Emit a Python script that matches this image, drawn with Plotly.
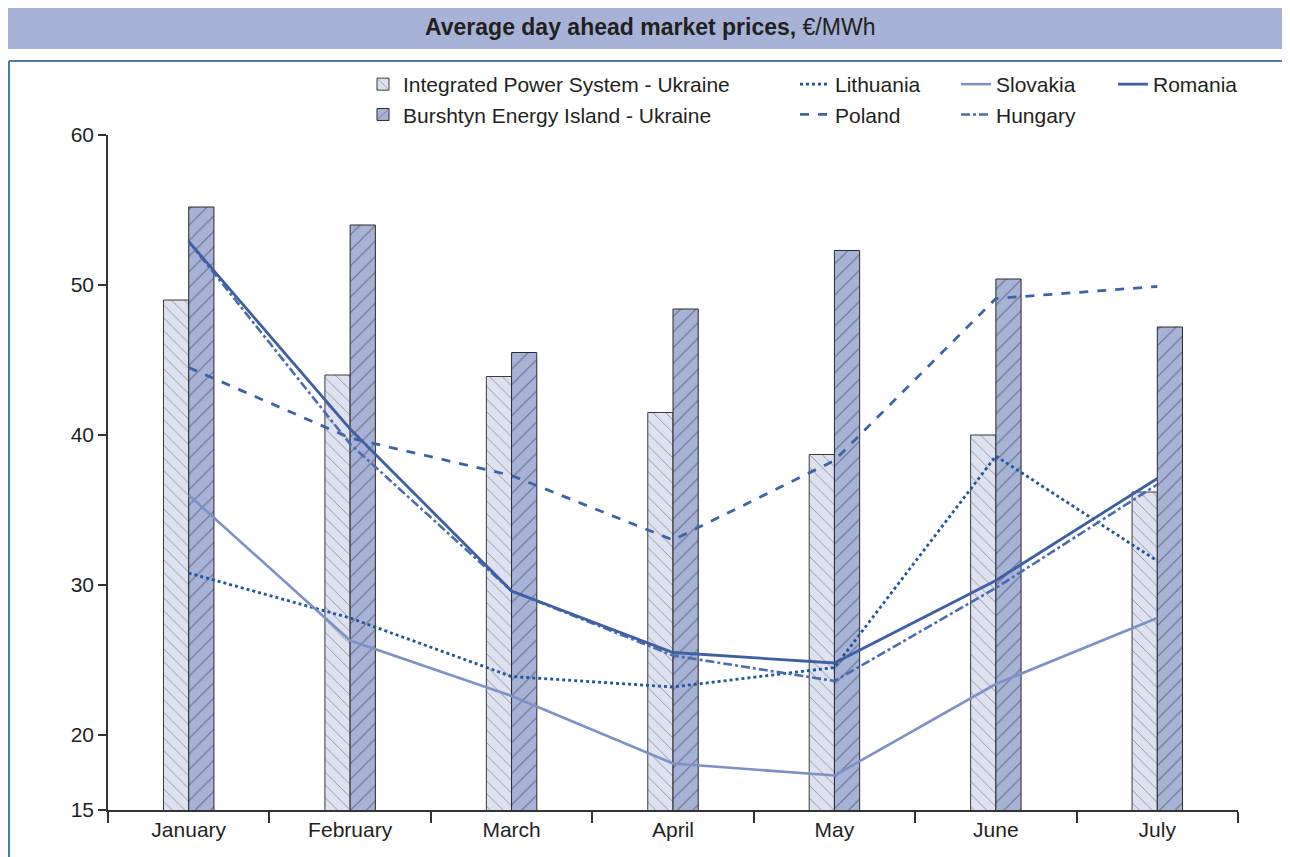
import plotly.graph_objects as go

months = ["January", "February", "March", "April", "May", "June", "July"]

ips = [49.0, 44.0, 43.9, 41.5, 38.7, 40.0, 36.2]
burshtyn = [55.2, 54.0, 45.5, 48.4, 52.3, 50.4, 47.2]

lithuania = [30.8, 27.8, 23.9, 23.2, 24.5, 38.6, 31.6]
poland = [44.5, 39.8, 37.3, 33.0, 38.3, 49.1, 49.9]
slovakia = [36.0, 26.3, 22.6, 18.1, 17.3, 23.4, 27.8]
romania = [52.9, 40.4, 29.6, 25.5, 24.8, 30.3, 37.1]
hungary = [52.9, 39.4, 29.6, 25.3, 23.6, 29.8, 36.7]

y_ticks = [15, 20, 30, 40, 50, 60]

# page body has an 8px margin, so the figure is drawn 8px smaller and
# every page-pixel position below is shifted by that offset
OFF = 8
W, H = 1290 - OFF, 857 - OFF
L, R, T, B = 108 - OFF, 60 - OFF, 135 - OFF, 55 - OFF
font_family = "Liberation Sans, Arial, sans-serif"
text_color = "#231f20"


def px_x(p):
    return (p - OFF - L) / (W - L - R)


def px_y(p):
    return (H - B - (p - OFF)) / (H - T - B)


fig = go.Figure()

fig.add_trace(go.Bar(
    x=months, y=ips, name="Integrated Power System - Ukraine",
    marker=dict(color="#dde1f0", line=dict(color="#3a3a3a", width=1),
                pattern=dict(shape="\\", fgcolor="#444444", size=9, solidity=0.1)),
    legend="legend",
))
fig.add_trace(go.Bar(
    x=months, y=burshtyn, name="Burshtyn Energy Island - Ukraine",
    marker=dict(color="#a6b2d6", line=dict(color="#2a2a2a", width=1),
                pattern=dict(shape="/", fgcolor="#2a2a2a", size=11, solidity=0.1)),
    legend="legend",
))

lines = [
    ("Lithuania", lithuania, "#1f579c", "dot", 2.8, "legend2"),
    ("Poland", poland, "#3a64a8", "dash", 2.8, "legend2"),
    ("Slovakia", slovakia, "#7d91c6", "solid", 2.6, "legend3"),
    ("Hungary", hungary, "#4a6cb0", "dashdot", 2.6, "legend3"),
    ("Romania", romania, "#3f5fa5", "solid", 2.8, "legend4"),
]
for name, vals, color, dash, w, leg in lines:
    fig.add_trace(go.Scatter(
        x=months, y=vals, name=name, mode="lines",
        line=dict(color=color, dash=dash, width=w),
        legend=leg,
    ))

legend_font = dict(family=font_family, size=21, color=text_color)
leg_common = dict(orientation="v", xanchor="left", yanchor="top",
                  bgcolor="rgba(0,0,0,0)", font=legend_font,
                  tracegroupgap=0, itemwidth=30)

fig.update_layout(
    width=W, height=H,
    margin=dict(l=L, r=R, t=T, b=B),
    paper_bgcolor="white", plot_bgcolor="white",
    barmode="group", bargap=0.6875, bargroupgap=0,
    font=dict(family=font_family, size=21, color=text_color),
    legend=dict(x=px_x(363), y=px_y(64), **leg_common),
    legend2=dict(x=px_x(795), y=px_y(64), **leg_common),
    legend3=dict(x=px_x(956), y=px_y(64), **leg_common),
    legend4=dict(x=px_x(1113), y=px_y(64), **leg_common),
    xaxis=dict(
        tickson="boundaries", ticks="outside", ticklen=11, tickwidth=1.5,
        tickcolor="#333333", showline=True, linecolor="#333333", linewidth=1.5,
        showgrid=False, tickfont=dict(size=21, color=text_color),
    ),
    yaxis=dict(
        range=[15, 60], tickvals=y_ticks, ticks="outside", ticklen=8,
        tickwidth=1.5, tickcolor="#333333", showline=True, linecolor="#333333",
        linewidth=1.5, showgrid=False, zeroline=False,
        tickfont=dict(size=21, color=text_color),
    ),
    shapes=[
        # title band
        dict(type="rect", xref="paper", yref="paper",
             x0=px_x(8), x1=px_x(1290), y0=px_y(49), y1=px_y(5),
             fillcolor="#a6b3d6", line=dict(width=0), layer="below"),
        # frame
        dict(type="line", xref="paper", yref="paper",
             x0=px_x(9), x1=px_x(1290), y0=px_y(61), y1=px_y(61),
             line=dict(color="#4a7ab2", width=2)),
        dict(type="line", xref="paper", yref="paper",
             x0=px_x(9), x1=px_x(9), y0=px_y(61), y1=px_y(857),
             line=dict(color="#4a7ab2", width=2)),
    ],
    annotations=[
        dict(text="<b>Average day ahead market prices,</b> €/MWh",
             xref="paper", yref="paper", x=px_x(650), y=px_y(27),
             xanchor="center", yanchor="middle", showarrow=False,
             font=dict(family="Liberation Sans Narrow, Liberation Sans, Arial",
                       size=23, color=text_color)),
    ],
)

fig.write_html("out.html")
